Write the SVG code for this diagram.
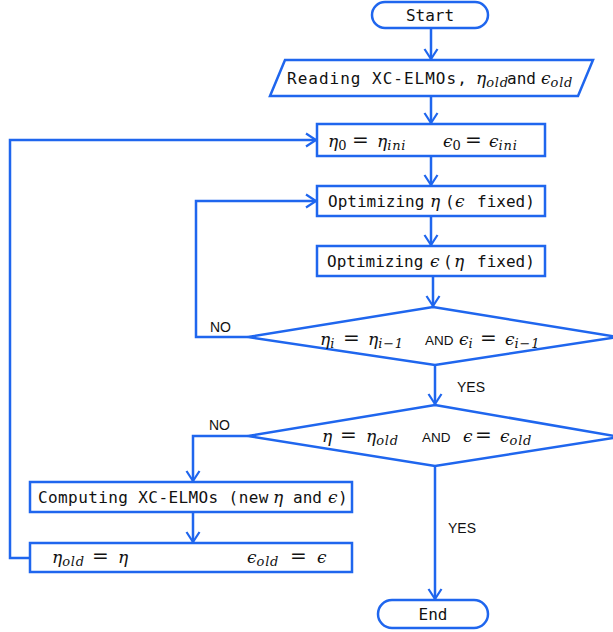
<svg xmlns="http://www.w3.org/2000/svg" width="613" height="632" viewBox="0 0 613 632">
<style>
.shape{fill:#ffffff;stroke:#1f66ee;stroke-width:2.5}
.conn{fill:none;stroke:#1f66ee;stroke-width:2.5;stroke-linejoin:miter}
.mono{font-family:"DejaVu Sans Mono","Liberation Mono",monospace;font-size:16px;fill:#111}
.m{font-family:"DejaVu Serif","Liberation Serif",serif;font-style:italic;font-size:17px}
.mu{font-family:"DejaVu Serif","Liberation Serif",serif;font-style:normal;font-size:17px}
.eq{font-family:"DejaVu Serif","Liberation Serif",serif;font-style:normal;font-size:20px}
.sub{font-size:13px;letter-spacing:0.8px}
.sp{font-size:2px}
.lbl{font-family:"Liberation Sans","DejaVu Sans",sans-serif;font-size:14px;fill:#111}
.and{font-family:"Liberation Sans","DejaVu Sans",sans-serif;font-style:normal;font-size:13.5px}
.math{font-family:"DejaVu Serif",serif;fill:#111}
</style>
<defs>
<marker id="arr" markerUnits="userSpaceOnUse" markerWidth="16" markerHeight="16" viewBox="0 0 16 16" refX="12" refY="8" orient="auto">
<path d="M2,1.5 L12,8 L2,14.5" fill="none" stroke="#1f66ee" stroke-width="2.2"/>
</marker>
</defs>
<rect width="613" height="632" fill="#ffffff"/>
<g id="connectors">
<path class="conn" d="M431,28 V59" marker-end="url(#arr)"/>
<path class="conn" d="M431,96 V123" marker-end="url(#arr)"/>
<path class="conn" d="M431,156 V185" marker-end="url(#arr)"/>
<path class="conn" d="M431,216 V245" marker-end="url(#arr)"/>
<path class="conn" d="M433,276 V306" marker-end="url(#arr)"/>
<path class="conn" d="M435,365 V404" marker-end="url(#arr)"/>
<path class="conn" d="M248,337 H196 V201 H316" marker-end="url(#arr)"/>
<path class="conn" d="M248,436 H193 V481" marker-end="url(#arr)"/>
<path class="conn" d="M193,512 V542" marker-end="url(#arr)"/>
<path class="conn" d="M30,558 H10 V140 H316" marker-end="url(#arr)"/>
<path class="conn" d="M435,466 V599" marker-end="url(#arr)"/>
<text class="lbl" x="210" y="332">NO</text>
<text class="lbl" x="457" y="392">YES</text>
<text class="lbl" x="209" y="430">NO</text>
<text class="lbl" x="448" y="533">YES</text>
</g>
<g id="start">
<rect class="shape" x="372" y="2" width="116" height="26" rx="13"/>
<text class="mono" x="430" y="21" text-anchor="middle">Start</text>
</g>
<g id="read">
<polygon class="shape" points="285,60 593,60 578,96 270,96"/>
<text class="mono" x="287" y="84"><tspan letter-spacing="1">Reading XC-ELMOs,</tspan><tspan class="m" x="476">η</tspan><tspan class="m sub" dy="3">old</tspan><tspan class="sp" dy="-3"> </tspan><tspan x="507">and</tspan><tspan class="sp"> </tspan><tspan class="m" x="541">ϵ</tspan><tspan class="m sub" dy="3">old</tspan></text>
</g>
<g id="init">
<rect class="shape" x="317" y="124" width="228" height="32"/>
<text class="math" y="147"><tspan class="m" x="328">η</tspan><tspan class="mu sub" dy="3">0</tspan><tspan class="sp" dy="-3"> </tspan><tspan class="eq" x="352">=</tspan><tspan class="sp"> </tspan><tspan class="m" x="377">η</tspan><tspan class="m sub" dy="3">ini</tspan><tspan class="sp" dy="-3"> </tspan><tspan class="m" x="443">ϵ</tspan><tspan class="mu sub" dy="3">0</tspan><tspan class="sp" dy="-3"> </tspan><tspan class="eq" x="465">=</tspan><tspan class="sp"> </tspan><tspan class="m" x="489">ϵ</tspan><tspan class="m sub" dy="3">ini</tspan></text>
</g>
<g id="opt-eta">
<rect class="shape" x="317" y="186" width="228" height="30"/>
<text class="mono" x="328" y="207">Optimizing<tspan class="sp"> </tspan><tspan class="m" x="430">η</tspan><tspan class="sp"> </tspan><tspan x="445">(</tspan><tspan class="m" x="455">ϵ</tspan><tspan class="sp"> </tspan><tspan x="477">fixed)</tspan></text>
</g>
<g id="opt-eps">
<rect class="shape" x="317" y="246" width="228" height="30"/>
<text class="mono" x="327" y="267">Optimizing<tspan class="sp"> </tspan><tspan class="m" x="430">ϵ</tspan><tspan class="sp"> </tspan><tspan x="443">(</tspan><tspan class="m" x="454">η</tspan><tspan class="sp"> </tspan><tspan x="477">fixed)</tspan></text>
</g>
<g id="conv-inner">
<polygon class="shape" points="433,307 618,337 435,365 248,337"/>
<text class="math" y="345"><tspan class="m" x="320">η</tspan><tspan class="m sub" dy="3">i</tspan><tspan class="sp" dy="-3"> </tspan><tspan class="eq" x="343">=</tspan><tspan class="sp"> </tspan><tspan class="m" x="368">η</tspan><tspan class="m sub" dy="3">i−1</tspan><tspan class="sp" dy="-3"> </tspan><tspan class="and" x="425">AND</tspan><tspan class="sp"> </tspan><tspan class="m" x="459">ϵ</tspan><tspan class="m sub" dy="3">i</tspan><tspan class="sp" dy="-3"> </tspan><tspan class="eq" x="480">=</tspan><tspan class="sp"> </tspan><tspan class="m" x="505">ϵ</tspan><tspan class="m sub" dy="3">i−1</tspan></text>
</g>
<g id="conv-outer">
<polygon class="shape" points="435,405 620,437 435,466 248,436"/>
<text class="math" y="442"><tspan class="m" x="322">η</tspan><tspan class="sp"> </tspan><tspan class="eq" x="340">=</tspan><tspan class="sp"> </tspan><tspan class="m" x="366">η</tspan><tspan class="m sub" dy="3">old</tspan><tspan class="sp" dy="-3"> </tspan><tspan class="and" x="422">AND</tspan><tspan class="sp"> </tspan><tspan class="m" x="463">ϵ</tspan><tspan class="sp"> </tspan><tspan class="eq" x="475">=</tspan><tspan class="sp"> </tspan><tspan class="m" x="500">ϵ</tspan><tspan class="m sub" dy="3">old</tspan></text>
</g>
<g id="compute">
<rect class="shape" x="30" y="482" width="322" height="30"/>
<text class="mono" x="38" y="503"><tspan letter-spacing="0.4">Computing XC-ELMOs (new</tspan><tspan class="sp"> </tspan><tspan class="m" x="273">η</tspan><tspan class="sp"> </tspan><tspan x="293">and</tspan><tspan class="sp"> </tspan><tspan class="m" x="328">ϵ</tspan><tspan x="338">)</tspan></text>
</g>
<g id="update">
<rect class="shape" x="30" y="543" width="322" height="29"/>
<text class="math" y="563"><tspan class="m" x="52">η</tspan><tspan class="m sub" dy="3">old</tspan><tspan class="sp" dy="-3"> </tspan><tspan class="eq" x="92">=</tspan><tspan class="sp"> </tspan><tspan class="m" x="118">η</tspan><tspan class="sp"> </tspan><tspan class="m" x="247">ϵ</tspan><tspan class="m sub" dy="3">old</tspan><tspan class="sp" dy="-3"> </tspan><tspan class="eq" x="290">=</tspan><tspan class="sp"> </tspan><tspan class="m" x="317">ϵ</tspan></text>
</g>
<g id="end">
<rect class="shape" x="378" y="600" width="110" height="28" rx="14"/>
<text class="mono" x="433" y="620" text-anchor="middle">End</text>
</g>
</svg>
